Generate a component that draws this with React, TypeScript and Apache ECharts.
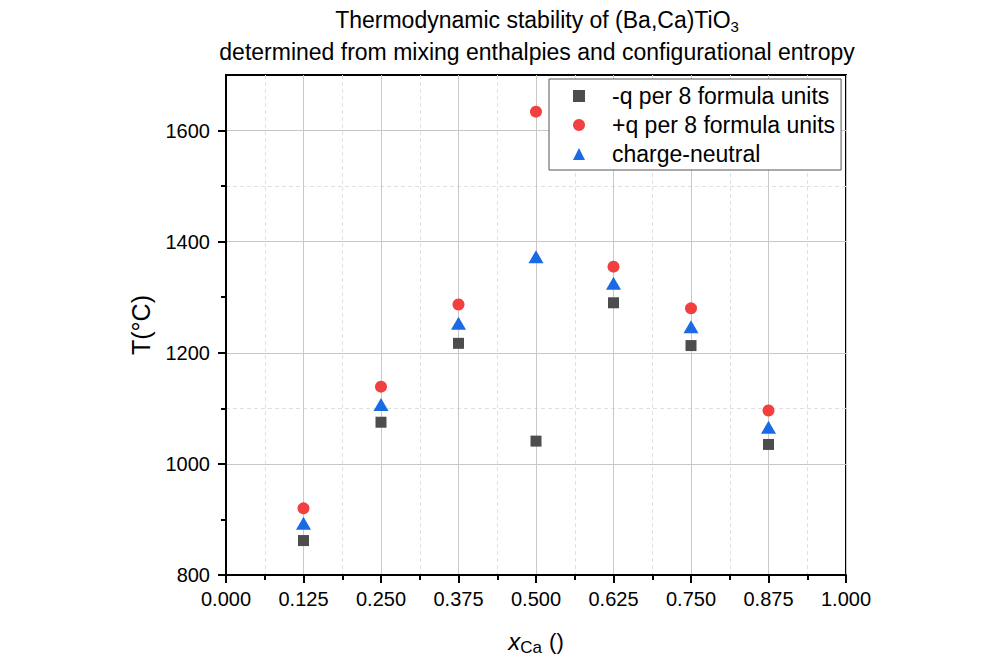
import React, { useEffect, useRef } from 'react';
import * as echarts from 'echarts';

const xCa = [0.125, 0.25, 0.375, 0.5, 0.625, 0.75, 0.875];
const negQ = [862, 1075, 1217, 1041, 1290, 1213, 1035];
const posQ = [920, 1139, 1287, 1634, 1355, 1280, 1096];
const neutral = [893, 1107, 1253, 1373, 1325, 1247, 1066];
const seriesNames = ['-q per 8 formula units', '+q per 8 formula units', 'charge-neutral'];
const yMajorTicks = [800, 1000, 1200, 1400, 1600];
const yMinorTicks = [900, 1100, 1300, 1500];

const FONT = '"Liberation Sans", Arial, sans-serif';

export default function App() {
  const ref = useRef<HTMLDivElement>(null);
  useEffect(() => {
    if (!ref.current) return;
    const chart = echarts.init(ref.current, undefined, { renderer: 'svg' });
    const pairs = (ys: number[]) => xCa.map((x, i) => [x, ys[i]]);
    chart.setOption({
      animation: false,
      backgroundColor: '#fff',
      textStyle: { fontFamily: FONT },
      title: {
        text: 'Thermodynamic stability of (Ba,Ca)TiO{sub|3}\ndetermined from mixing enthalpies and configurational entropy',
        left: 537,
        top: 4,
        textAlign: 'center',
        padding: 0,
        textStyle: {
          fontFamily: FONT,
          fontSize: 23,
          fontWeight: 'normal',
          color: '#000',
          lineHeight: 32,
          rich: {
            sub: { fontSize: 15, fontFamily: FONT, color: '#000', padding: [12, 0, 0, 0] },
          },
        },
      },
      legend: {
        orient: 'vertical',
        left: 549,
        top: 79,
        padding: [4, 6, 3, 24],
        itemGap: 3,
        itemWidth: 12,
        itemHeight: 12,
        borderColor: '#555',
        borderWidth: 1,
        backgroundColor: '#fff',
        data: seriesNames,
        textStyle: { fontSize: 23, color: '#000', fontFamily: FONT, lineHeight: 26, padding: [0, 0, 0, 22] },
      },
      grid: {
        left: 226,
        right: 154,
        top: 75,
        bottom: 91,
        show: true,
        borderColor: '#000',
        borderWidth: 2,
        backgroundColor: 'transparent',
      },
      xAxis: {
        type: 'value',
        min: 0,
        max: 1,
        interval: 0.125,
        name: '{it|x}{sub|Ca} ()',
        nameLocation: 'middle',
        nameGap: 52,
        nameTextStyle: {
          fontSize: 22,
          color: '#000',
          fontFamily: FONT,
          rich: {
            it: { fontStyle: 'italic', fontSize: 24, fontFamily: FONT, color: '#000' },
            sub: { fontSize: 17, fontFamily: FONT, color: '#000', padding: [12, 1, 0, 0] },
          },
        },
        axisLine: { show: true, onZero: false, lineStyle: { color: '#000', width: 2 } },
        axisTick: { show: true, length: 8, lineStyle: { color: '#000', width: 2 } },
        minorTick: { show: true, splitNumber: 2, length: 5, lineStyle: { color: '#000', width: 2 } },
        axisLabel: {
          formatter: (v: number) => v.toFixed(3),
          fontSize: 20,
          color: '#000',
          margin: 14,
          fontFamily: FONT,
        },
        splitLine: { show: true, lineStyle: { color: '#c8c8c8', width: 1 } },
        minorSplitLine: { show: true, lineStyle: { color: '#e0e0e0', type: [4, 3], width: 1 } },
      },
      yAxis: [
        {
          type: 'value',
          min: 800,
          max: 1700,
          interval: 200,
          name: 'T(°C)',
          nameLocation: 'middle',
          nameGap: 73,
          nameTextStyle: { fontSize: 25, color: '#000', fontFamily: FONT },
          axisLine: { show: true, onZero: false, lineStyle: { color: '#000', width: 2 } },
          axisTick: { show: true, length: 8, customValues: yMajorTicks, lineStyle: { color: '#000', width: 2 } },
          axisLabel: {
            customValues: yMajorTicks,
            formatter: (v: number) => String(v),
            fontSize: 20,
            color: '#000',
            margin: 16,
            fontFamily: FONT,
          },
          splitLine: { show: true, lineStyle: { color: '#c8c8c8', width: 1 } },
        },
        {
          type: 'value',
          min: 800,
          max: 1700,
          interval: 100,
          position: 'left',
          axisLine: { show: false },
          axisTick: { show: true, length: 5, customValues: yMinorTicks, lineStyle: { color: '#000', width: 2 } },
          axisLabel: { show: false },
          splitLine: {
            show: true,
            lineStyle: { color: ['transparent', '#e0e0e0'], type: [4, 3], width: 1 },
          },
        },
      ],
      series: [
        {
          name: seriesNames[0],
          type: 'scatter',
          symbol: 'rect',
          symbolSize: 11,
          itemStyle: { color: '#4d4d4d', opacity: 1 },
          data: pairs(negQ),
          z: 3,
        },
        {
          name: seriesNames[1],
          type: 'scatter',
          symbol: 'circle',
          symbolSize: 12,
          itemStyle: { color: '#f23f3f', opacity: 1 },
          data: pairs(posQ),
          z: 3,
        },
        {
          name: seriesNames[2],
          type: 'scatter',
          symbol: 'triangle',
          symbolSize: [15, 13],
          itemStyle: { color: '#1a6be3', opacity: 1 },
          data: pairs(neutral),
          z: 3,
        },
      ],
    });
    return () => chart.dispose();
  }, []);
  return (
    <div
      ref={ref}
      style={{ position: 'fixed', left: 0, top: 0, width: 1000, height: 666 }}
    />
  );
}
